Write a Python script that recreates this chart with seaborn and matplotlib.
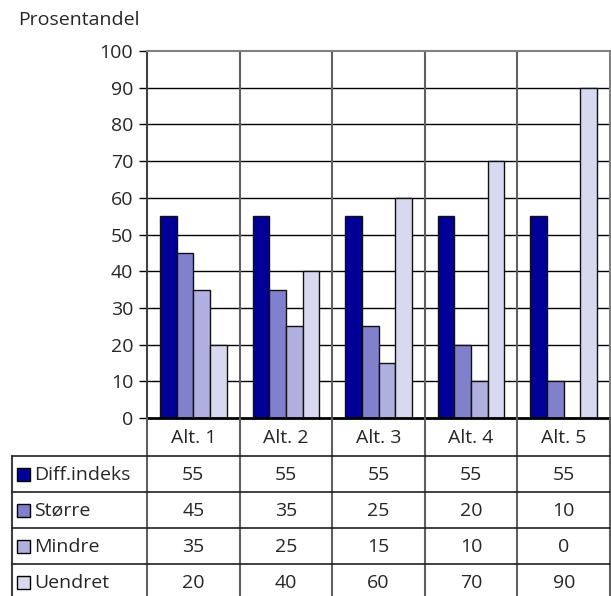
import matplotlib
matplotlib.use("Agg")
import matplotlib.pyplot as plt
from matplotlib.patches import Rectangle
import numpy as np
import pandas as pd
import seaborn as sns

categories = ["Alt. 1", "Alt. 2", "Alt. 3", "Alt. 4", "Alt. 5"]
series = ["Diff.indeks", "Større", "Mindre", "Uendret"]
diff_indeks = [55, 55, 55, 55, 55]
storre = [45, 35, 25, 20, 10]
mindre = [35, 25, 15, 10, 0]
uendret = [20, 40, 60, 70, 90]
colors = ["#000099", "#8080CC", "#B0B0E0", "#D8D8F0"]

values = [diff_indeks, storre, mindre, uendret]
df = pd.DataFrame([(c, s, v) for s, vals in zip(series, values)
                   for c, v in zip(categories, vals)],
                  columns=["alt", "serie", "verdi"])

sns.set_style("white")
plt.rcParams["font.family"] = ["Open Sans", "DejaVu Sans"]
FS = 14

W, H = 611, 596
fig = plt.figure(figsize=(W / 100, H / 100), dpi=100)
ax_l, ax_r, ax_t, ax_b = 147, 610, 51, 418
ax = fig.add_axes([ax_l / W, 1 - ax_b / H, (ax_r - ax_l) / W, (ax_b - ax_t) / H])

sns.barplot(data=df, x="alt", y="verdi", hue="serie", palette=colors,
            width=0.72, edgecolor="#111111", linewidth=1, saturation=1,
            legend=False, ax=ax, zorder=3)

ax.set_ylim(0, 100)
ax.set_xlim(-0.5, len(categories) - 0.5)
ax.set_yticks(range(0, 101, 10))
ax.set_xticks([])
ax.set_xlabel("")
ax.set_ylabel("")
ax.tick_params(axis="y", left=True, length=6, width=1, color="black",
               labelsize=FS, pad=4)
for y in range(10, 100, 10):
    ax.axhline(y, color="black", lw=1, zorder=1)
for i in range(1, len(categories)):
    ax.axvline(i - 0.5, color="#606060", lw=1.5, zorder=1)
ax.spines["left"].set_color("#404040")
ax.spines["left"].set_linewidth(1.5)
ax.spines["bottom"].set_color("black")
ax.spines["bottom"].set_linewidth(2)
ax.spines["bottom"].set_zorder(5)
ax.spines["top"].set_color("#808080")
ax.spines["top"].set_linewidth(1.5)
ax.spines["right"].set_color("#808080")
ax.spines["right"].set_linewidth(1.5)

fig.text(18 / W, 1 - 20 / H, "Prosentandel", fontsize=FS, ha="left", va="center")

# data table below the plot
tab_l = 12
tab_h = H - ax_b
cat_w = (ax_r - ax_l) / len(categories)
tax = fig.add_axes([tab_l / W, 0, (ax_r - tab_l) / W, tab_h / H])
x_left = -0.5 - (ax_l - tab_l) / cat_w
tax.set_xlim(x_left, len(categories) - 0.5)
tax.set_ylim(tab_h, 0)
tax.axis("off")
header_h, row_h = 38, 36

for i in range(len(categories) + 1):
    tax.plot([i - 0.5, i - 0.5], [0, tab_h], color="#606060", lw=1.5,
             clip_on=False)
tax.plot([x_left, x_left], [header_h, tab_h], color="#404040", lw=1.5,
         clip_on=False)
for j in range(len(series)):
    y = header_h + j * row_h
    tax.plot([x_left, len(categories) - 0.5], [y, y], color="#202020", lw=1.2,
             clip_on=False)

for i, c in enumerate(categories):
    tax.text(i, header_h / 2 + 1, c, ha="center", va="center", fontsize=FS)

sq = 13 / cat_w
for j, (s, vals, col) in enumerate(zip(series, values, colors)):
    yc = header_h + j * row_h + row_h / 2
    tax.add_patch(Rectangle((x_left + 5 / cat_w, yc - 6.5), sq, 13,
                            facecolor=col, edgecolor="black", lw=1))
    tax.text(x_left + 22 / cat_w, yc + 1, s, ha="left", va="center", fontsize=FS)
    for i, v in enumerate(vals):
        tax.text(i, yc + 1, str(v), ha="center", va="center", fontsize=FS)

fig.savefig("out.png", dpi=100)
